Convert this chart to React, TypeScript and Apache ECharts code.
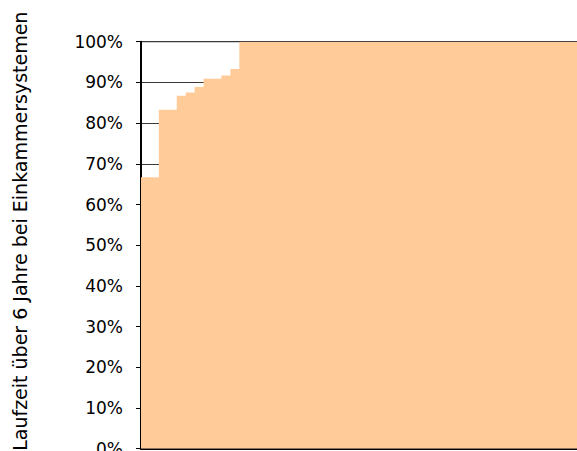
import React, { useEffect, useRef } from "react";
import * as echarts from "echarts";

// category boundaries (one more than the number of steps)
const categories = [
  "0", "1", "2", "3", "4", "5", "6", "7", "8", "9", "10",
  "11", "12", "13", "14", "15", "16", "17", "18", "19", "20",
  "21", "22", "23", "24", "25", "26", "27", "28", "29", "30",
  "31", "32", "33", "34", "35", "36", "37", "38", "39", "40",
  "41", "42", "43", "44", "45", "46", "47", "48", "49", "50",
  "51", "52", "53", "54", "55", "56", "57", "58", "59", "60",
];

// value held from each boundary to the next (last repeats for the closing edge)
const shareValues = [
  66.7, 66.7, 83.3, 83.3, 86.7, 87.5, 88.9, 90.9, 90.9, 91.7,
  93.3, 100, 100, 100, 100, 100, 100, 100, 100, 100,
  100, 100, 100, 100, 100, 100, 100, 100, 100, 100,
  100, 100, 100, 100, 100, 100, 100, 100, 100, 100,
  100, 100, 100, 100, 100, 100, 100, 100, 100, 100,
  100, 100, 100, 100, 100, 100, 100, 100, 100, 100,
  100,
];

const yTitle = "Laufzeit über 6 Jahre bei Einkammersystemen";

export default function App() {
  const ref = useRef<HTMLDivElement>(null);
  useEffect(() => {
    if (!ref.current) return;
    const chart = echarts.init(ref.current, null, { renderer: "svg" });
    chart.setOption({
      animation: false,
      backgroundColor: "#ffffff",
      grid: {
        left: 141,
        top: 41.7,
        width: 8.94 * (categories.length - 1),
        height: 407,
        outerBoundsMode: "none",
        containLabel: false,
        show: true,
        borderColor: "#000000",
        borderWidth: 1,
        backgroundColor: "transparent",
      },
      xAxis: {
        type: "category",
        data: categories,
        boundaryGap: false,
        axisLine: { show: true, lineStyle: { color: "#000", width: 2 } },
        axisTick: { show: false },
        axisLabel: { show: false },
        splitLine: { show: false },
      },
      yAxis: {
        type: "value",
        min: 0,
        max: 100,
        interval: 10,
        name: yTitle,
        nameLocation: "middle",
        nameRotate: 90,
        nameGap: 112,
        nameTextStyle: {
          color: "#000",
          fontFamily: "DejaVu Sans",
          fontSize: 19,
          padding: [0, 0, 0, 28],
        },
        axisLine: { show: true, lineStyle: { color: "#000", width: 2 } },
        axisTick: { show: true, length: 5, lineStyle: { color: "#000", width: 1 } },
        axisLabel: {
          formatter: "{value}%",
          color: "#000",
          fontFamily: "DejaVu Sans",
          fontSize: 17,
          margin: 18,
        },
        splitLine: { show: true, lineStyle: { color: "#3a3a3a", width: 1 } },
      },
      series: [
        {
          type: "line",
          data: shareValues,
          step: "end",
          symbol: "none",
          silent: true,
          lineStyle: { width: 0, color: "#FFCC99" },
          areaStyle: { color: "#FFCC99", opacity: 1 },
        },
      ],
    });
    return () => chart.dispose();
  }, []);
  return (
    <div
      ref={ref}
      style={{ position: "absolute", left: 0, top: 0, width: 577, height: 451, overflow: "hidden" }}
    />
  );
}
